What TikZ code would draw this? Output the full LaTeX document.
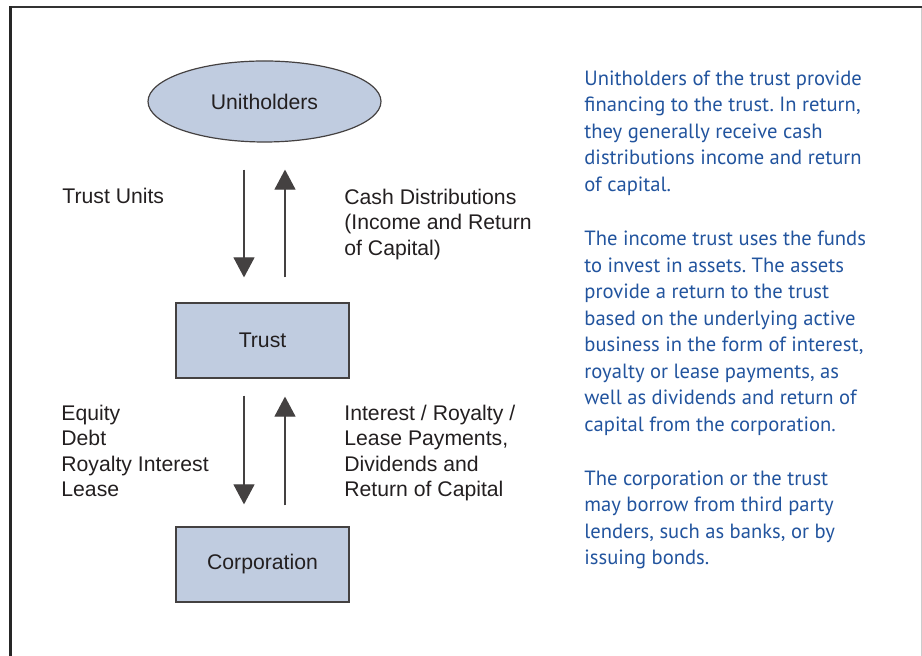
\documentclass[tikz,border=0pt]{standalone}
\usepackage{fontspec}
\setmainfont{Liberation Sans}
\newfontfamily\notefont{PT Sans}
\usetikzlibrary{arrows.meta,shapes.geometric}
\definecolor{boxfill}{RGB}{192,204,224}
\definecolor{notecol}{RGB}{34,84,158}
\definecolor{inkcol}{RGB}{35,31,32}
\frenchspacing
\begin{document}
\begin{tikzpicture}[x=0.5pt, y=-0.5pt,
    every node/.style={font=\fontsize{10.6}{12.75}\selectfont, text=inkcol},
    party/.style={draw=inkcol!85, line width=0.6pt, fill=boxfill,
      minimum width=86.5pt, minimum height=37.5pt, inner sep=0pt},
    flow/.style={draw=inkcol!85, line width=0.55pt,
      -{Triangle[width=10.5pt,length=10pt]}},
    lbl/.style={anchor=north west, align=left, inner sep=0pt},
    note/.style={anchor=north west, align=left, inner sep=0pt, text=notecol,
      font=\notefont\fontsize{10.3}{13.25}\selectfont}]
  \useasboundingbox (0,0) rectangle (922,656);
  % frame
  \draw[line width=1pt, draw=black!80] (9,7) -- (921.5,7);
  \draw[line width=1.5pt, draw=black!85] (10,6.5) -- (10,656);
  \draw[line width=0.5pt, draw=black!20] (921.5,8) -- (921.5,656);
  % parties
  \node[party, ellipse, minimum width=116.5pt, minimum height=40.5pt] (unit) at (264.5,101.5) {Unitholders};
  \node[party] (trust) at (262.5,340.5) {Trust};
  \node[party] (corp) at (262.5,564.5) {Corporation};
  % flows
  \draw[flow] ([shift={(-20.5,27)}]unit.south) -- ([shift={(-18.5,-25)}]trust.north);
  \draw[flow] ([shift={(22.5,-25)}]trust.north) -- ([shift={(20.5,27)}]unit.south);
  \draw[flow] ([shift={(-18.5,17)}]trust.south) -- ([shift={(-18.5,-22)}]corp.north);
  \draw[flow] ([shift={(22.5,-21)}]corp.north) -- ([shift={(22.5,18)}]trust.south);
  % labels
  \node[lbl] (units) at (62,188) {Trust Units};
  \node[lbl] (cash) at (344,188.5) {Cash Distributions\\(Income and Return\\of Capital)};
  \node[lbl] (funds) at (61,404.5) {Equity\\Debt\\Royalty Interest\\Lease};
  \node[lbl] (pay) at (344,404.5) {Interest / Royalty /\\Lease Payments,\\Dividends and\\Return of Capital};
  % notes
  \node[note] (para1) at (584,70.5) {Unitholders of the trust provide\\financing to the trust. In return,\\they generally receive cash\\distributions income and return\\of capital.};
  \node[note] (para2) at (584,231) {The income trust uses the funds\\to invest in assets. The assets\\provide a return to the trust\\based on the underlying active\\business in the form of interest,\\royalty or lease payments, as\\well as dividends and return of\\capital from the corporation.};
  \node[note] (para3) at (584,470.5) {The corporation or the trust\\may borrow from third party\\lenders, such as banks, or by\\issuing bonds.};
\end{tikzpicture}
\end{document}
